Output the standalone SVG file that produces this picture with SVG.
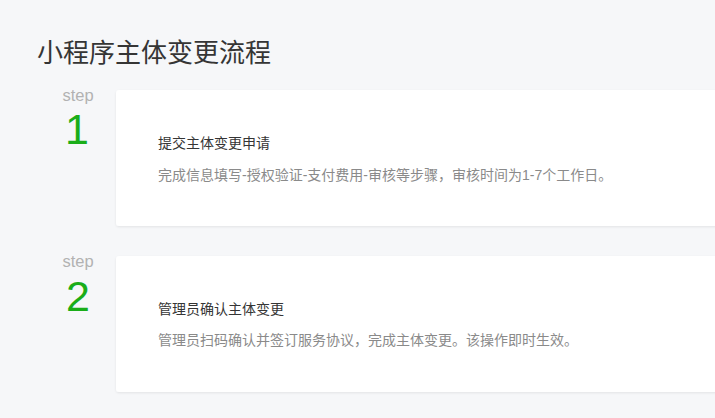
<svg xmlns="http://www.w3.org/2000/svg" width="715" height="418" viewBox="0 0 715 418">
<defs>
<style>
.cjk{font-family:"Liberation Sans","Noto Sans CJK SC",sans-serif}
.step{font-family:"Liberation Sans","Noto Sans CJK SC",sans-serif;font-size:16.5px;fill:#b2b2b2;text-anchor:middle}
.num{font-family:"Liberation Sans","Noto Sans CJK SC",sans-serif;font-size:43px;fill:#1aad19;text-anchor:middle}
.card{fill:#ffffff}
.h{font-size:14px;fill:#353535}
.d{font-size:14px;fill:#8a8a8a}
</style>
<filter id="sh" x="-5%" y="-10%" width="110%" height="125%">
<feDropShadow dx="0" dy="1" stdDeviation="1" flood-color="#000" flood-opacity="0.08"/>
</filter>
</defs>
<rect x="0" y="0" width="715" height="418" fill="#f6f7f9"/>
<text class="cjk" x="37" y="62" font-size="26" fill="#353535">小程序主体变更流程</text>
<g id="step1">
<rect class="card" x="116" y="90" width="610" height="136" rx="3" filter="url(#sh)"/>
<text class="step" x="78" y="101">step</text>
<text class="num" x="77" y="144">1</text>
<text class="cjk h" x="158" y="148">提交主体变更申请</text>
<text class="cjk d" x="158" y="180">完成信息填写-授权验证-支付费用-审核等步骤，审核时间为1-7个工作日。</text>
</g>
<g id="step2">
<rect class="card" x="116" y="256" width="610" height="136" rx="3" filter="url(#sh)"/>
<text class="step" x="78" y="267">step</text>
<text class="num" x="78" y="311">2</text>
<text class="cjk h" x="158" y="314">管理员确认主体变更</text>
<text class="cjk d" x="158" y="345">管理员扫码确认并签订服务协议，完成主体变更。该操作即时生效。</text>
</g>
<g id="connectors"></g>
</svg>
